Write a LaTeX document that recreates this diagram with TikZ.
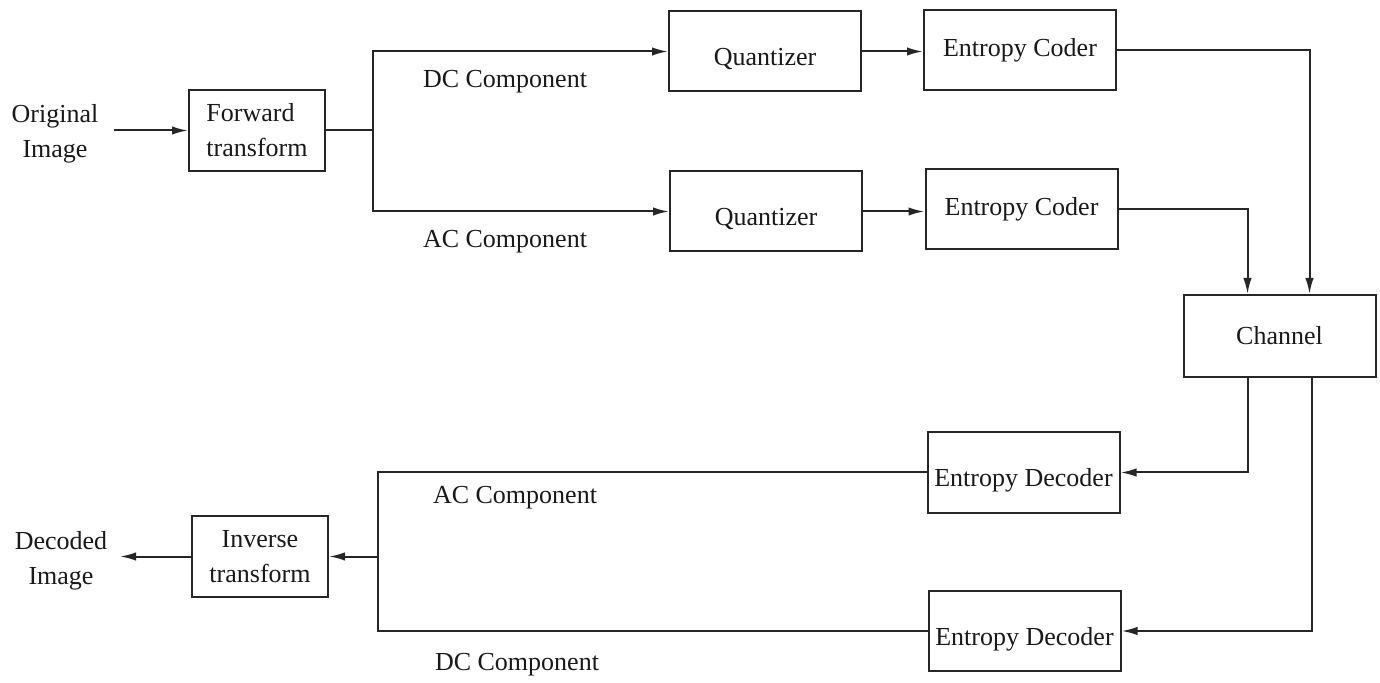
\documentclass[tikz,border=0pt]{standalone}
\usepackage{fontspec}
\setmainfont{Liberation Serif}
\usetikzlibrary{arrows.meta}
\begin{document}
\begin{tikzpicture}[x=0.5pt,y=-0.5pt,
  font=\fontsize{13}{17.5}\selectfont,
  line width=1pt,
  wire/.style={draw=black!85,line width=1pt},
  blk/.style={draw=black!85,line width=1pt,inner sep=0pt,
    minimum width=96pt,minimum height=40pt,text=black!90},
  low/.style={text height=17pt,text depth=3pt},
  tbox/.style={blk,minimum width=68pt,minimum height=40.5pt},
  lbl/.style={inner sep=0pt,text=black!90},
  arr/.style={wire,-{Latex[length=8pt,width=4.2pt]}}]
\useasboundingbox (0,0) rectangle (1380,683);

% encoder blocks
\node[tbox,align=left] (fwd) at (257,130.5) {Forward\\transform};
\node[blk,low] (q1) at (765,51.5) {Quantizer};
\node[blk] (ec1) at (1020,50) {Entropy Coder};
\node[blk,low] (q2) at (766,211.5) {Quantizer};
\node[blk] (ec2) at (1021.5,209) {Entropy Coder};
\node[blk,minimum height=41pt] (ch) at (1279.5,336) {Channel};

% decoder blocks
\node[blk,low,minimum height=40.5pt] (dec1) at (1023.5,472.5) {Entropy Decoder};
\node[blk,low] (dec2) at (1024.5,631) {Entropy Decoder};
\node[tbox,align=center] (inv) at (260,556.5) {Inverse\\transform};

% outer labels
\node[lbl,align=center] (orig) at (55,134) {Original\\Image};
\node[lbl,align=center] (dec) at (61,561) {Decoded\\Image};
\node[lbl] (dc1) at (505,82) {DC Component};
\node[lbl] (ac1) at (505,242) {AC Component};
\node[lbl] (ac2) at (515,498) {AC Component};
\node[lbl] (dc2) at (517,665) {DC Component};

% junction points
\coordinate (oin) at (114,130.5);
\coordinate (split) at (373,130.5);
\coordinate (merge) at (378,556.5);
\coordinate (dout) at (120,556.5);

% encoder connections
\draw[arr] (oin) -- (fwd.west);
\draw[wire] (fwd.east) -- (split);
\draw[arr] (split) |- (q1.west);
\draw[arr] (split) |- (q2.west);
\draw[arr] (q1.east) -- (q1.east -| ec1.west);
\draw[arr] (q2.east) -- (q2.east -| ec2.west);
\draw[arr] (ec1.east) -| ([xshift=15pt]ch.north);
\draw[arr] (ec2.east) -| ([xshift=-16pt]ch.north);

% decoder connections
\draw[arr] ([xshift=-16pt]ch.south) |- (dec1.east);
\draw[arr] ([xshift=16pt]ch.south) |- (dec2.east);
\draw[wire] (dec1.west) -| (merge) |- (dec2.west);
\draw[arr] (merge) -- (inv.east);
\draw[arr] (inv.west) -- (dout);
\end{tikzpicture}
\end{document}
